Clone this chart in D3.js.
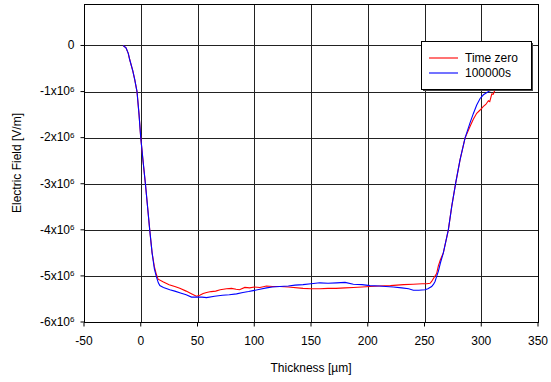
<!DOCTYPE html>
<meta charset="utf-8">
<style>
body { margin: 0; background: #fff; }
text { font-family: 'Liberation Sans', Arial, sans-serif; fill: #000; }
.tick text { font-size: 12px; }
path.domain { display: none; }
</style>
<body>
<script src="https://cdnjs.cloudflare.com/ajax/libs/d3/7.8.5/d3.min.js"></script>
<script>

// values: [thickness um, field in 1e6 V/m]
var timeZero = [
  [-15.5, 0], [-13, -0.05], [-11, -0.17], [-9.7, -0.31], [-7, -0.55], [-5.3, -0.74], [-3.3, -1.0],
  [-1.5, -1.5], [0, -2.0], [2, -2.5], [4.1, -3.0], [6, -3.5], [7.9, -4.0], [10, -4.5], [12, -4.8],
  [13.8, -4.97], [15.3, -5.07], [20, -5.13], [25, -5.19], [30, -5.23], [34.4, -5.27], [40, -5.33],
  [45, -5.39], [49, -5.44], [52, -5.42], [55, -5.38], [58, -5.36], [62, -5.34], [66, -5.33],
  [70, -5.3], [75.6, -5.28], [80, -5.27], [84, -5.29], [87, -5.3], [91.7, -5.25], [96, -5.26],
  [100, -5.24], [105, -5.25], [110.8, -5.22], [116, -5.23], [122.6, -5.23], [130, -5.24],
  [143, -5.27], [150, -5.28], [157.8, -5.28], [165, -5.27], [172, -5.27], [180, -5.26],
  [187.3, -5.25], [195, -5.24], [202, -5.23], [210, -5.22], [220, -5.21], [231.5, -5.19],
  [240, -5.18], [248, -5.17], [252, -5.17], [254.9, -5.16], [256.3, -5.12], [258, -5.05],
  [260.7, -4.95], [262.2, -4.78], [264, -4.65], [266.6, -4.5], [271, -4.0], [274, -3.49],
  [277.5, -2.98], [281.3, -2.48], [285.7, -2.01], [290.1, -1.76], [293, -1.6], [296, -1.47],
  [299, -1.4], [301.9, -1.32], [304, -1.28], [306.3, -1.2], [307.5, -1.22], [309.3, -1.05],
  [310.5, -1.06], [312.2, -0.96]
];

var after100000s = [
  [-15.5, 0], [-13, -0.05], [-11, -0.17], [-9.7, -0.31], [-7, -0.55], [-5.3, -0.74], [-3.3, -1.0],
  [-1.5, -1.5], [0, -2.0], [2, -2.5], [4.1, -3.0], [6, -3.5], [7.9, -4.0], [10, -4.5], [12, -4.85],
  [13.8, -5.02], [15.5, -5.15], [16.8, -5.21], [20, -5.25], [25.6, -5.3], [30, -5.33], [35, -5.37],
  [40, -5.41], [44.7, -5.46], [50, -5.46], [54, -5.46], [58, -5.47], [65, -5.44], [72, -5.42],
  [78, -5.41], [84.4, -5.39], [90, -5.36], [95, -5.34], [99, -5.32], [105, -5.29], [110.8, -5.26],
  [116, -5.24], [122.6, -5.23], [130, -5.22], [136, -5.2], [143, -5.19], [150, -5.17],
  [157.8, -5.15], [165, -5.16], [172.6, -5.15], [180, -5.14], [187.3, -5.18], [195, -5.19],
  [202, -5.21], [210, -5.22], [216, -5.23], [222.5, -5.24], [230, -5.26], [236, -5.28],
  [240.2, -5.31], [245, -5.31], [250.4, -5.3], [253, -5.28], [256.3, -5.23], [258, -5.18],
  [259.3, -5.12], [260.7, -5.01], [262.2, -4.9], [264, -4.72], [266.6, -4.5], [271, -4.0],
  [274, -3.49], [277.5, -2.98], [281.3, -2.48], [285.7, -2.01], [290.1, -1.68], [293, -1.48],
  [296, -1.29], [299, -1.15], [301.9, -1.07], [305, -1.02], [307.8, -0.98], [310.7, -0.96]
];

var xTicks = [-50, 0, 50, 100, 150, 200, 250, 300, 350];
var yTicks = [0, -1, -2, -3, -4, -5, -6];   // x 1e6
var seriesNames = ["Time zero", "100000s"];
var seriesColors = ["#ff0000", "#0000ff"];

var W = 551, H = 382;
var pL = 84, pR = 538, pT = 4, pB = 322;

var svg = d3.select("body").append("svg")
    .attr("width", W)
    .attr("height", H);

var x = d3.scaleLinear().domain([-50, 350]).range([pL, pR]);
var y = d3.scaleLinear().domain([-6, 0.9]).range([pB, pT]);

// gridlines
svg.append("g").selectAll("line")
    .data(xTicks.slice(1, -1))
  .enter().append("line")
    .attr("x1", function(d) { return Math.round(x(d)) + 0.5; })
    .attr("x2", function(d) { return Math.round(x(d)) + 0.5; })
    .attr("y1", pT).attr("y2", pB)
    .attr("stroke", "#222").attr("stroke-width", 1);

svg.append("g").selectAll("line")
    .data(yTicks.slice(0, -1))
  .enter().append("line")
    .attr("y1", function(d) { return Math.round(y(d)) + 0.5; })
    .attr("y2", function(d) { return Math.round(y(d)) + 0.5; })
    .attr("x1", pL).attr("x2", pR)
    .attr("stroke", "#222").attr("stroke-width", 1);

// axes
var xAxis = svg.append("g")
    .attr("transform", "translate(0," + (pB + 0.5) + ")")
    .call(d3.axisBottom(x).tickValues(xTicks).tickSize(4).tickPadding(10).tickSizeOuter(0)
      .offset(0).tickFormat(function(d) { return String(d); }));

var yAxis = svg.append("g")
    .attr("transform", "translate(" + (pL + 0.5) + ",0)")
    .call(d3.axisLeft(y).tickValues(yTicks).tickSize(4).tickPadding(6).tickSizeOuter(0)
      .offset(0).tickFormat(function() { return ""; }));

yAxis.selectAll(".tick text").each(function(d) {
  var t = d3.select(this);
  if (d === 0) { t.text("0"); return; }
  t.append("tspan").text(d + "x10");
  t.append("tspan").attr("dy", "-0.45em").attr("font-size", "8px").text("6");
});

// plot frame
svg.append("rect")
    .attr("x", pL + 0.5).attr("y", pT + 0.5)
    .attr("width", pR - pL)
    .attr("height", pB - pT)
    .attr("fill", "none").attr("stroke", "#000").attr("stroke-width", 1);

// curves
var line = d3.line()
    .x(function(d) { return x(d[0]); })
    .y(function(d) { return y(d[1]); });

[timeZero, after100000s].forEach(function(s, i) {
  svg.append("path")
      .datum(s)
      .attr("d", line)
      .attr("fill", "none")
      .attr("stroke", seriesColors[i])
      .attr("stroke-width", 1.1);
});

// legend
var lg = svg.append("g").attr("transform", "translate(421,41)");
lg.append("rect").attr("x", 2).attr("y", 2).attr("width", 110).attr("height", 48)
    .attr("fill", "#444");
lg.append("rect").attr("x", 0.5).attr("y", 0.5).attr("width", 110).attr("height", 48)
    .attr("fill", "#fff").attr("stroke", "#000");
seriesNames.forEach(function(n, i) {
  var ly = 17 + i * 15;
  lg.append("line").attr("x1", 8).attr("x2", 37).attr("y1", ly).attr("y2", ly)
      .attr("stroke", seriesColors[i]).attr("stroke-width", 1.1);
  lg.append("text").attr("x", 44).attr("y", ly + 4).style("font-size", "12px").text(n);
});

// axis titles
svg.append("text")
    .attr("x", (pL + pR) / 2).attr("y", 372)
    .attr("text-anchor", "middle")
    .style("font-size", "12px")
    .text("Thickness [\u00b5m]");

svg.append("text")
    .attr("transform", "translate(21," + ((pT + pB) / 2) + ") rotate(-90)")
    .attr("text-anchor", "middle")
    .style("font-size", "12px")
    .text("Electric Field [V/m]");

</script>
</body>
